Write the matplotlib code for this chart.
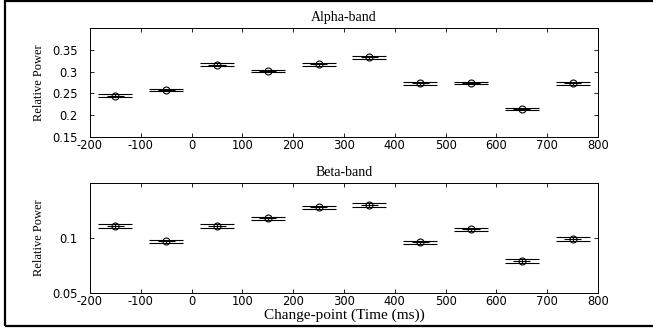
import numpy as np
import matplotlib
matplotlib.use('Agg')
import matplotlib.pyplot as plt
from matplotlib.patches import Rectangle
from matplotlib.transforms import ScaledTranslation

# change-points (ms)
time_ms = [-150, -50, 50, 150, 250, 350, 450, 550, 650, 750]
time_err = [17] * 10

# relative power per band
alpha_power = [0.245, 0.258, 0.316, 0.301, 0.317, 0.333, 0.273, 0.274, 0.214, 0.273]
alpha_err = [0.003] * 10
beta_power = [0.111, 0.097, 0.111, 0.118, 0.128, 0.130, 0.096, 0.108, 0.079, 0.099]
beta_err = [0.0015] * 10

panels = [
    ('Alpha-band', alpha_power, alpha_err, (0.15, 0.4), [0.15, 0.2, 0.25, 0.3, 0.35], ['0.15', '0.2', '0.25', '0.3', '0.35']),
    ('Beta-band', beta_power, beta_err, (0.05, 0.15), [0.05, 0.1], ['0.05', '0.1']),
]

serif = 'Liberation Serif'
sans = 'DejaVu Sans'

fig = plt.figure(figsize=(6.53, 3.28), dpi=100)
fig.patch.set_facecolor('white')

# figure frame
fig.add_artist(Rectangle((5 / 653, 2 / 328), 1.2, 325 / 328, transform=fig.transFigure,
                         fill=False, edgecolor='black', linewidth=1.6))

positions = [[0.1378, 0.5823, 0.778, 0.3323], [0.1378, 0.1067, 0.778, 0.3354]]

for pos, (title, vals, errs, ylim, yticks, ylabels) in zip(positions, panels):
    ax = fig.add_axes(pos)
    # horizontal bars (time spread) without caps
    ax.errorbar(time_ms, vals, xerr=time_err, fmt='none', ecolor='black',
                elinewidth=0.8, capsize=0)
    # vertical bars with wide caps
    ax.errorbar(time_ms, vals, yerr=errs, fmt='none', ecolor='black',
                elinewidth=0.8, capsize=12, capthick=0.8)
    ax.plot(time_ms, vals, 'o', mfc='none', mec='black', ms=5, mew=0.8)
    ax.set_xlim(-200, 800)
    ax.set_ylim(*ylim)
    ax.set_xticks(range(-200, 801, 100))
    ax.set_xticklabels([str(t) for t in range(-200, 801, 100)], fontfamily=sans, fontsize=8.3)
    ax.set_yticks(yticks)
    ax.set_yticklabels(ylabels, fontfamily=sans, fontsize=8.3)
    # lowest y label sits a touch high, like the original
    lab = ax.get_yticklabels()[0]
    lab.set_transform(lab.get_transform() + ScaledTranslation(0, 2 / 72, fig.dpi_scale_trans))
    ax.tick_params(direction='in', top=True, right=True, length=3, width=0.6)
    ax.tick_params(axis='y', pad=9)
    ax.tick_params(axis='x', pad=1.5)
    for s in ax.spines.values():
        s.set_linewidth(0.7)
    ax.set_title(title, fontfamily=serif, fontsize=10, pad=5)
    ax.set_ylabel('Relative Power', fontfamily=serif, fontsize=9, labelpad=5)

ax.set_xlabel('Change-point (Time (ms))', fontfamily=serif, fontsize=11, labelpad=0)

fig.savefig('out.png', dpi=100)
